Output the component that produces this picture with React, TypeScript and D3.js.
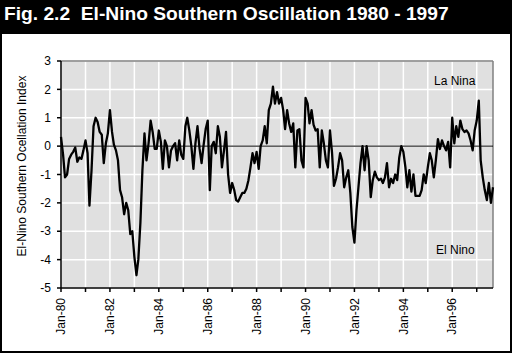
import React from "react";
import * as d3 from "d3";

// monthly SOI values, Jan 1980 .. Sep 1997
const soi1980 = [0.33, -0.3, -1.1, -1.0, -0.45, -0.3, -0.2, -0.05, -0.55, -0.4, -0.45, -0.15];
const soi1981 = [0.2, -0.25, -2.1, -0.85, 0.7, 1.0, 0.85, 0.5, 0.4, -0.6, 0.1, 0.45];
const soi1982 = [1.27, 0.5, 0.05, -0.15, -0.5, -1.55, -1.8, -2.4, -2.0, -2.25, -3.1, -3.0];
const soi1983 = [-3.9, -4.55, -4.0, -2.7, -0.85, 0.45, -0.5, 0.1, 0.9, 0.5, -0.1, -0.1];
const soi1984 = [0.55, 0.15, -0.8, 0.2, 0, -0.75, -0.15, 0, 0.1, -0.5, 0.2, -0.3];
const soi1985 = [-0.45, 0.7, 1.0, 0.55, 0, -0.8, 0.1, 0.7, -0.1, -0.6, 0.05, 0.6];
const soi1986 = [0.9, -1.55, 0, 0.15, -0.25, 0.7, 0.33, -0.75, -0.15, 0.5, -1.0, -1.65];
const soi1987 = [-1.3, -1.55, -1.9, -1.95, -1.8, -1.65, -1.65, -1.5, -1.2, -0.75, -0.25, -0.6];
const soi1988 = [-0.2, -0.8, 0, 0.2, 0.7, 0.1, 1.27, 1.5, 2.1, 1.5, 1.9, 1.5];
const soi1989 = [1.7, 1.27, 0.6, 1.27, 0.8, 0.5, 0.8, -0.75, 0.55, 0.6, -0.5, -0.75];
const soi1990 = [1.7, 1.5, 0.8, 1.27, 0.75, 0.55, 0.6, -0.75, 0.55, 0.1, -0.5, -0.75];
const soi1991 = [0.55, -0.25, -1.4, -1.15, -0.75, -0.25, -0.5, -1.45, -1.1, -0.85, -1.65, -2.85];
const soi1992 = [-3.4, -2.25, -1.45, -0.6, 0, -0.85, 0, -0.5, -1.8, -1.2, -0.9, -1.1];
const soi1993 = [-1.2, -1.15, -1.3, -1.1, -0.6, -1.45, -1.15, -1.3, -1.0, -1.2, -0.4, 0];
const soi1994 = [-0.2, -0.75, -1.45, -0.85, -1.6, -1.0, -1.75, -1.75, -1.75, -1.55, -1.0, -1.3];
const soi1995 = [-0.75, -0.25, -0.5, -1.1, -0.5, 0.25, -0.1, 0.2, 0, -0.15, 0.15, -0.75];
const soi1996 = [1.0, 0.1, 0.7, 0.33, 0.9, 0.6, 0.5, 0.55, 0.45, 0.2, -0.15, 0.55];
const soi1997 = [0.9, 1.6, -0.5, -1.1, -1.55, -1.9, -1.3, -2.0, -1.45];

const soiValues = [
  ...soi1980, ...soi1981, ...soi1982, ...soi1983, ...soi1984, ...soi1985,
  ...soi1986, ...soi1987, ...soi1988, ...soi1989, ...soi1990, ...soi1991,
  ...soi1992, ...soi1993, ...soi1994, ...soi1995, ...soi1996, ...soi1997,
];

const yTicks = [3, 2, 1, 0, -1, -2, -3, -4, -5];
const xLabelYears = [1980, 1982, 1984, 1986, 1988, 1990, 1992, 1994, 1996];

const W = 512;
const H = 353;
const plot = { left: 61, right: 493, top: 61, bottom: 288 };
const font = "'Liberation Sans', Arial, sans-serif";

export default function App() {
  const data = soiValues.map((v, i) => ({ date: new Date(1980, i, 1), value: v }));

  const x = d3
    .scaleTime()
    .domain([new Date(1980, 0, 1), new Date(1980, soiValues.length - 1, 1)])
    .range([plot.left, plot.right]);
  const y = d3.scaleLinear().domain([-5, 3]).range([plot.bottom, plot.top]);

  const yearTicks = d3.range(1980, 1998).map((yr) => new Date(yr, 0, 1));

  const line = d3
    .line<{ date: Date; value: number }>()
    .x((d) => x(d.date))
    .y((d) => y(d.value));

  const fmt = d3.timeFormat("%b-%y");

  return (
    <div style={{ position: "absolute", left: 0, top: 0 }}>
      <svg width={W} height={H} style={{ display: "block", fontFamily: font }}>
        <rect x={0} y={0} width={W} height={H} fill="#fff" />
        {/* title bar */}
        <rect x={0} y={0} width={W} height={33} fill="#000" />
        <text x={4} y={20} fill="#fff" fontSize={19.2} fontWeight="bold" style={{ whiteSpace: "pre" }}>
          {"Fig. 2.2  El-Nino Southern Oscillation 1980 - 1997"}
        </text>
        <rect x={1} y={33} width={W - 2} height={H - 34} fill="none" stroke="#000" strokeWidth={2} />

        {/* plot area */}
        <rect x={plot.left} y={plot.top} width={plot.right - plot.left} height={plot.bottom - plot.top} fill="#e0e0e0" />
        {yTicks.map((t) => (
          <line key={"hg" + t} x1={plot.left} x2={plot.right} y1={y(t)} y2={y(t)} stroke="#fff" strokeWidth={1.5} />
        ))}
        {yearTicks.map((d, i) => (
          <line key={"vg" + i} x1={x(d)} x2={x(d)} y1={plot.top} y2={plot.bottom} stroke="#fff" strokeWidth={1.5} />
        ))}
        <line x1={plot.left} x2={plot.right} y1={plot.top} y2={plot.top} stroke="#808080" strokeWidth={1.5} />
        <line x1={plot.right} x2={plot.right} y1={plot.top} y2={plot.bottom} stroke="#808080" strokeWidth={1.5} />
        <line x1={plot.left} x2={plot.right} y1={y(0)} y2={y(0)} stroke="#000" strokeWidth={1} />

        <path d={line(data) || ""} fill="none" stroke="#000" strokeWidth={2.3} strokeLinejoin="round" />

        {/* axes */}
        <line x1={plot.left} x2={plot.left} y1={plot.top} y2={plot.bottom} stroke="#000" strokeWidth={1.5} />
        <line x1={plot.left} x2={plot.right} y1={plot.bottom} y2={plot.bottom} stroke="#000" strokeWidth={1.5} />
        {yTicks.map((t) => (
          <g key={"yt" + t}>
            <line x1={plot.left - 4} x2={plot.left} y1={y(t)} y2={y(t)} stroke="#000" strokeWidth={1.5} />
            <text x={plot.left - 10} y={y(t)} dy="0.35em" textAnchor="end" fontSize={12} fill="#000">
              {t}
            </text>
          </g>
        ))}
        {yearTicks.map((d, i) => (
          <line key={"xt" + i} x1={x(d)} x2={x(d)} y1={plot.bottom} y2={plot.bottom + 4} stroke="#000" strokeWidth={1.5} />
        ))}
        {xLabelYears.map((yr) => {
          const px = x(new Date(yr, 0, 1));
          return (
            <text
              key={"xl" + yr}
              transform={`translate(${px},${plot.bottom + 10}) rotate(-90)`}
              dy="0.35em"
              textAnchor="end"
              fontSize={12}
              fill="#000"
            >
              {fmt(new Date(yr, 0, 1))}
            </text>
          );
        })}

        <text transform={`translate(22,166) rotate(-90)`} dy="0.35em" textAnchor="middle" fontSize={12} fill="#000">
          El-Nino Southern Ocellation Index
        </text>

        <text x={434} y={85} fontSize={12} fill="#000">La Nina</text>
        <text x={436} y={254} fontSize={12} fill="#000">El Nino</text>
      </svg>
    </div>
  );
}
